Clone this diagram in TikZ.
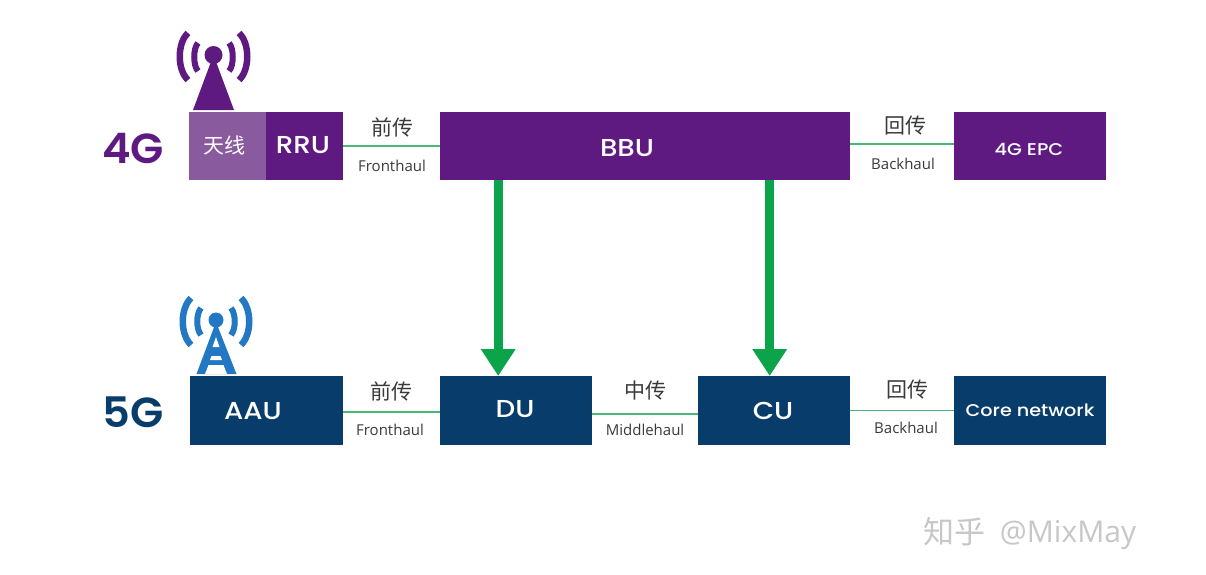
\documentclass[tikz,border=0pt]{standalone}
\usepackage{fontspec}
\setmainfont{Poppins}
\newfontfamily\med{Poppins Medium}[FakeStretch=1.13]
\newfontfamily\semi{Poppins SemiBold}[FakeStretch=1.03]
\newfontfamily\cjk{Noto Sans CJK SC}
\newfontfamily\lab{Open Sans}
\usetikzlibrary{arrows.meta}
\definecolor{purp}{HTML}{5F1A82}
\definecolor{lpurp}{HTML}{8A5A9E}
\definecolor{navy}{HTML}{083C6B}
\definecolor{sky}{HTML}{2378C4}
\definecolor{grn}{HTML}{0BA44A}
\definecolor{thin}{HTML}{45B874}
\definecolor{ink}{HTML}{3A3A3A}
\tikzset{
  x=1pt,y=-1pt,
  boxp/.style={draw=none,fill=purp,anchor=north west,inner sep=0,minimum height=68pt},
  boxn/.style={draw=none,fill=navy,anchor=north west,inner sep=0,minimum height=69pt},
  big/.style={text=white,inner sep=0,font=\med\fontsize{24.5}{24.5}\selectfont},
  small/.style={text=white,inner sep=0,font=\med\fontsize{17}{17}\selectfont},
  link/.style={draw=thin,line width=1.5pt},
  bigarrow/.style={draw=grn,line width=9pt,-{Triangle[length=27pt,width=33pt]}},
  gen/.style={font=\semi\fontsize{42}{42}\selectfont,inner sep=0},
  cn/.style={font=\cjk\fontsize{21}{21}\selectfont,text=ink,inner sep=0},
  en/.style={font=\lab\fontsize{15}{15}\selectfont,text=ink,inner sep=0},
  wave/.style={line width=6.5pt,fill=none},
  wavein/.style={line width=6pt,fill=none},
}
\begin{document}
\begin{tikzpicture}
\useasboundingbox (0,0) rectangle (1206,574);
% 4G row
\node[boxp,fill=lpurp,minimum width=77pt] (ant) at (189,112) {};
\node[boxp,minimum width=77pt] (rru) at (266,112) {};
\node[boxp,minimum width=410pt] (bbu) at (440,112) {};
\node[boxp,minimum width=152pt] (epc) at (954,112) {};
\node[text=white,inner sep=0,font=\cjk\fontsize{21}{21}\selectfont] (antt) at (224,145) {天线};
\node[big] (rrut) at (303,145) {RRU};
\node[big] (bbut) at (627,148) {BBU};
\node[small] (epct) at (1029,149) {4G EPC};
% 5G row
\node[boxn,minimum width=153pt] (aau) at (190,376) {};
\node[boxn,minimum width=152pt] (du) at (440,376) {};
\node[boxn,minimum width=152pt] (cu) at (698,376) {};
\node[boxn,minimum width=152pt] (core) at (954,376) {};
\node[big] (aaut) at (253,411) {AAU};
\node[big] (dut) at (515,409) {DU};
\node[big] (cut) at (773,411) {CU};
\node[small] (coret) at (1030,410) {Core network};
% generation labels
\node[gen,text=purp] (g4) at (133,148) {4G};
\node[gen,text=navy] (g5) at (133,412) {5G};
% links
\draw[link] (rru.east) -- (rru.east -| bbu.west);
\draw[link] ([yshift=2pt]bbu.east) -- ([yshift=2pt]bbu.east -| epc.west);
\draw[link] ([yshift=-1.5pt]aau.east) -- ([yshift=-1.5pt]aau.east -| du.west);
\draw[link] ([yshift=-3.5pt]du.east) -- ([yshift=-3.5pt]du.east -| cu.west);
\draw[link] (cu.east) -- (cu.east -| core.west);
% link labels
\node[cn] (a1) at (392,127) {前传};
\node[en] (a2) at (392,166) {Fronthaul};
\node[cn] (b1) at (905,126) {回传};
\node[en] (b2) at (903,164) {Backhaul};
\node[cn] (c1) at (391,391) {前传};
\node[en] (c2) at (390,430) {Fronthaul};
\node[cn] (d1) at (645,391) {中传};
\node[en] (d2) at (645,430) {Middlehaul};
\node[cn] (e1) at (907,390) {回传};
\node[en] (e2) at (906,428) {Backhaul};
% green arrows
\draw[bigarrow] ([xshift=-147pt]bbu.south) -- ([xshift=-18pt]du.north);
\draw[bigarrow] ([xshift=124.5pt]bbu.south) -- ([xshift=-4.5pt]cu.north);
% 4G antenna
\fill[purp] (213.5,55) circle (9);
\fill[purp] (213.5,55) -- (234,110) -- (193,110) -- cycle;
\draw[purp,wavein] (198,43) .. controls (193,48) and (193,66) .. (198,71);
\draw[purp,wavein] (229,43) .. controls (234,48) and (234,66) .. (229,71);
\draw[purp,wave] (188,33) .. controls (177,43) and (177,70) .. (188,80);
\draw[purp,wave] (239,33) .. controls (250,43) and (250,70) .. (239,80);
% 5G antenna
\fill[sky] (216,320) circle (7.5);
\fill[sky] (216,322) -- (236.5,374) -- (196.5,374) -- cycle;
\fill[white] (216,337) -- (219.5,347) -- (212.5,347) -- cycle;
\fill[white] (211.5,356) -- (220.5,356) -- (222,360) -- (210,360) -- cycle;
\fill[white] (208.5,365) -- (223.5,365) -- (227,374) -- (205,374) -- cycle;
\draw[sky,wavein] (201,308) .. controls (196,314) and (196,329) .. (201,335);
\draw[sky,wavein] (231,308) .. controls (236,314) and (236,329) .. (231,335);
\draw[sky,wave] (191,298) .. controls (180,309) and (180,334) .. (191,345);
\draw[sky,wave] (241,298) .. controls (252,309) and (252,334) .. (241,345);
% watermark
\node[font=\cjk\fontsize{31}{31}\selectfont,text=black!22,inner sep=0] (wm1) at (954,532) {知乎};
\node[font=\lab\fontsize{30}{30}\selectfont,text=black!22,inner sep=0] (wm2) at (1068,535) {@MixMay};
\end{tikzpicture}
\end{document}
